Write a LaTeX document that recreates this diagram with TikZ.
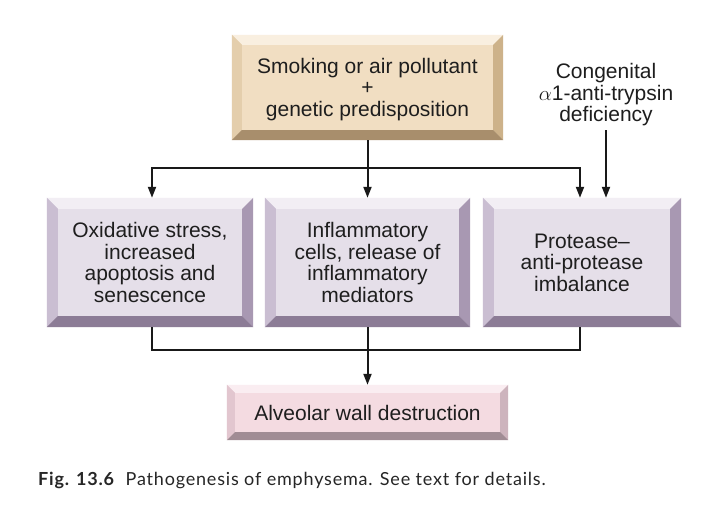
\documentclass[tikz,border=0pt]{standalone}
\usepackage{fontspec}
\setmainfont{Liberation Sans}
\newfontfamily\capfont[LetterSpace=4.5]{Lato}
\usetikzlibrary{arrows.meta,calc}
\definecolor{txt}{RGB}{30,30,30}
\definecolor{bgFace}{RGB}{241,222,194}
\definecolor{bgTop}{RGB}{249,239,224}
\definecolor{bgLeft}{RGB}{228,206,172}
\definecolor{bgRight}{RGB}{205,178,138}
\definecolor{bgBot}{RGB}{168,142,108}
\definecolor{puFace}{RGB}{229,223,233}
\definecolor{puTop}{RGB}{242,238,244}
\definecolor{puLeft}{RGB}{202,190,210}
\definecolor{puRight}{RGB}{168,152,178}
\definecolor{puBot}{RGB}{140,124,150}
\definecolor{piFace}{RGB}{244,219,225}
\definecolor{piTop}{RGB}{250,237,241}
\definecolor{piLeft}{RGB}{226,198,207}
\definecolor{piRight}{RGB}{205,180,189}
\definecolor{piBot}{RGB}{160,140,148}
% #1 node name, #2 bevel, #3 prefix of colours
\newcommand\bevelframe[3]{%
  \fill[#3Top] (#1.north west) -- (#1.north east) -- ([shift={(-#2,-#2)}]#1.north east) -- ([shift={(#2,-#2)}]#1.north west) -- cycle;
  \fill[#3Left] (#1.north west) -- ([shift={(#2,-#2)}]#1.north west) -- ([shift={(#2,#2)}]#1.south west) -- (#1.south west) -- cycle;
  \fill[#3Right] (#1.north east) -- ([shift={(-#2,-#2)}]#1.north east) -- ([shift={(-#2,#2)}]#1.south east) -- (#1.south east) -- cycle;
  \fill[#3Bot] (#1.south west) -- ([shift={(#2,#2)}]#1.south west) -- ([shift={(-#2,#2)}]#1.south east) -- (#1.south east) -- cycle;
}
\tikzset{
  bbox/.style={inner sep=0pt, align=center, text=txt, font=\fontsize{21}{21.5}\selectfont},
  conn/.style={line width=2pt, draw=black!90},
  arr/.style={conn, -{Triangle[length=11pt,width=8pt]}},
}
\begin{document}
\begin{tikzpicture}[x=1pt,y=1pt]
\useasboundingbox (0,0) rectangle (706,506);
\fill[white] (0,0) rectangle (706,506);
% boxes
\node[bbox, fill=bgFace, minimum width=271pt, minimum height=105pt] (top) at (367.5,418.5) {};
\bevelframe{top}{10}{bg}
\node[bbox] at ([yshift=-2pt]top.center) {Smoking or air pollutant\\+\\genetic predisposition};

\node[bbox, fill=puFace, minimum width=206pt, minimum height=129pt] (b1) at (150,243.5) {};
\bevelframe{b1}{11}{pu}
\node[bbox] at (b1) {Oxidative stress,\\increased\\apoptosis and\\senescence};

\node[bbox, fill=puFace, minimum width=205pt, minimum height=129pt] (b2) at (367.5,243.5) {};
\bevelframe{b2}{11}{pu}
\node[bbox] at (b2) {Inflammatory\\cells, release of\\inflammatory\\mediators};

\node[bbox, fill=puFace, minimum width=198pt, minimum height=129pt] (b3) at (582,243.5) {};
\bevelframe{b3}{11}{pu}
\node[bbox] at (b3) {Protease--\\anti-protease\\imbalance};

\node[bbox, fill=piFace, minimum width=281pt, minimum height=55pt] (bot) at (367.5,93.5) {};
\bevelframe{bot}{8}{pi}
\node[bbox] at (bot) {Alveolar wall destruction};

\node[bbox] (cong) at (606,411) {Congenital\\\(\alpha\)1-anti-trypsin\\deficiency};

% connectors
\coordinate (j1) at (367.5,338);
\coordinate (j2) at (367.5,156);
\draw[arr] (top.south) -- (b2.north);
\draw[arr] (j1) -| ([xshift=2pt]b1.north);
\draw[arr] (j1) -| ([xshift=-2pt]b3.north);
\draw[arr] ([yshift=-4pt]cong.south) -- (cong.south |- b3.north);
\draw[conn] ([xshift=2pt]b1.south) |- (j2) -| ([xshift=-2pt]b3.south);
\draw[arr] (b2.south) -- (bot.north);

% caption
\node[anchor=base west, inner sep=0pt, font=\capfont\fontsize{18}{20}\selectfont, text=black!85] (cap) at (38,21) {\textbf{Fig. 13.6}\hspace{0.6em}Pathogenesis of emphysema. See text for details.};
\end{tikzpicture}
\end{document}
